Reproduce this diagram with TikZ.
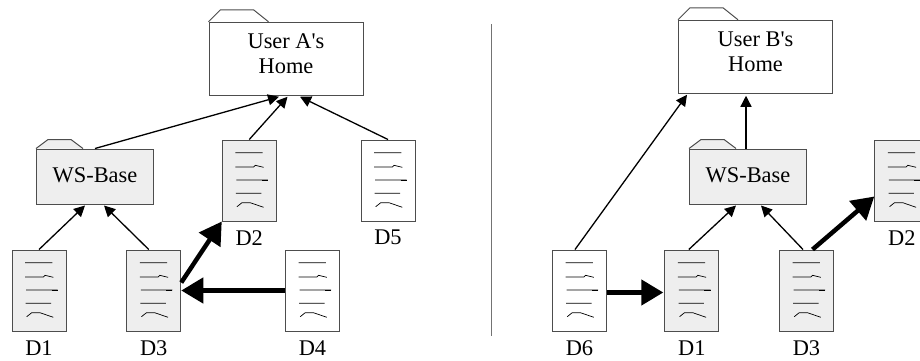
\documentclass[tikz,border=0pt]{standalone}
\usepackage{fontspec}
\setmainfont{Liberation Serif}
\usetikzlibrary{positioning, arrows.meta}
\definecolor{shared}{HTML}{EEEEEE}
\definecolor{edge}{HTML}{4D4D4D}
\tikzset{
	docfile/.style={draw=edge, line width=1pt, fill=white, minimum width=54pt, minimum height=81pt, inner sep=0pt,
		path picture={
			\draw [black, line width=0.7pt]
			(-14,-27.8)--(13.3,-27.8)
			(-14,-13.5)--(4.3,-13.5)--(6,-15.2)--(14.3,-13.2)
			(-13,-0.5)--(18.7,-0.5)
			(-13.3,12.8)--(12,12.8)
			(-12.3,26.2)--(-7.3,22.2)--(1,22.2)--(14.3,26.8);
			\draw [black, line width=0.95pt]
			(12.5,-0.5)--(18.7,-0.5);
		}},
	homefolder/.style={draw=edge, line width=1pt, fill=white, minimum width=154pt, minimum height=73pt, inner sep=0pt, align=center},
	basefolder/.style={draw=edge, line width=1pt, fill=shared, minimum width=117pt, minimum height=55pt, inner sep=0pt},
	docname/.style={inner sep=0pt},
	dep/.style={-{Triangle[length=11pt, width=11pt]}, line width=1.3pt},
	fat/.style={-{Triangle[length=22pt, width=25pt]}, line width=4.5pt},
	every node/.append style={font=\fontsize{22.4}{25}\selectfont},
}
\newcommand{\hometab}[1]{\draw [draw=edge, line width=1pt, fill=white]
	(#1.north west)--++(12,-12)--++(33,0)--++(15,12);}
\newcommand{\basetab}[1]{\draw [draw=edge, line width=1pt, fill=shared]
	(#1.north west)--++(12,-9)--++(23,0)--++(12,9);}

\begin{document}
\begin{tikzpicture}[x=1pt, y=-1pt]
	\clip (0,0) rectangle (920,360);
	
	% left side
	\node (homeA) [homefolder] at (286,58.75) {User A\textquotesingle s\\Home\\[-15pt]\mbox{}};
	\hometab{homeA}
	\node (baseA) [basefolder] at (95,176.5) {\raisebox{3pt}{WS-Base}};
	\basetab{baseA}
	\node (d1A) [docfile, fill=shared] at (39,290.5) {};
	\node (d3A) [docfile, fill=shared] at (153.75,290.5) {};
	\node (d2A) [docfile, fill=shared] at (249.25,180.5) {};
	\node (d4A) [docfile] at (312.5,290.5) {};
	\node (d5A) [docfile] at (388,180.5) {};
	\node (nameD1A) [docname, below=9pt of d1A] {D1};
	\node (nameD3A) [docname, below=9pt of d3A] {D3};
	\node (nameD2A) [docname, below=9pt of d2A] {D2};
	\node (nameD4A) [docname, below=9pt of d4A] {D4};
	\node (nameD5A) [docname, below=8pt of d5A] {D5};
	
	\draw [dep] (baseA.north)--([xshift=-7pt, yshift=-1pt]homeA.south);
	\draw [dep] (d2A.north)--([xshift=1.5pt, yshift=-1pt]homeA.south);
	\draw [dep] (d5A.north)--([xshift=14pt, yshift=-1pt]homeA.south);
	\draw [dep] (d1A.north)--([xshift=-10pt, yshift=-1pt]baseA.south);
	\draw [dep] ([xshift=-5pt]d3A.north)--([xshift=9pt, yshift=-1pt]baseA.south);
	\draw [fat] ([yshift=8pt]d3A.east)--(d2A.south west);
	\draw [fat] (d4A.west)--(d3A.east);
	
	% divider
	\draw [black!55, line width=1.5pt] (491.5,24)--(491.5,336);
	
	% right side
	\node (homeB) [homefolder] at (755.5,56.75) {User B\textquotesingle s\\Home\\[-15pt]\mbox{}};
	\hometab{homeB}
	\node (baseB) [basefolder] at (748,176.5) {\raisebox{3pt}{WS-Base}};
	\basetab{baseB}
	\node (d6B) [docfile] at (579.5,290.5) {};
	\node (d1B) [docfile, fill=shared] at (691.8,290.5) {};
	\node (d3B) [docfile, fill=shared] at (806.5,290.5) {};
	\node (d2B) [docfile, fill=shared] at (901.8,180.5) {};
	\node (nameD6B) [docname, below=9pt of d6B] {D6};
	\node (nameD1B) [docname, below=9pt of d1B] {D1};
	\node (nameD3B) [docname, below=9pt of d3B] {D3};
	\node (nameD2B) [docname, below=9pt of d2B] {D2};
	
	\draw [dep] ([xshift=-4.5pt]d6B.north)--([xshift=9pt, yshift=-1pt]homeB.south west);
	\draw [dep] ([xshift=-2pt]baseB.north)--([xshift=-9.5pt, yshift=-2pt]homeB.south);
	\draw [dep] ([xshift=-3pt]d1B.north)--([xshift=-12pt, yshift=-1pt]baseB.south);
	\draw [dep] ([xshift=-3.5pt]d3B.north)--([xshift=13pt, yshift=-1pt]baseB.south);
	\draw [fat] ([xshift=6pt]d3B.north)--([yshift=-16pt]d2B.west);
	\draw [fat] ([yshift=-2pt]d6B.east)--([yshift=-2pt, xshift=-1pt]d1B.west);
\end{tikzpicture}
\end{document}
